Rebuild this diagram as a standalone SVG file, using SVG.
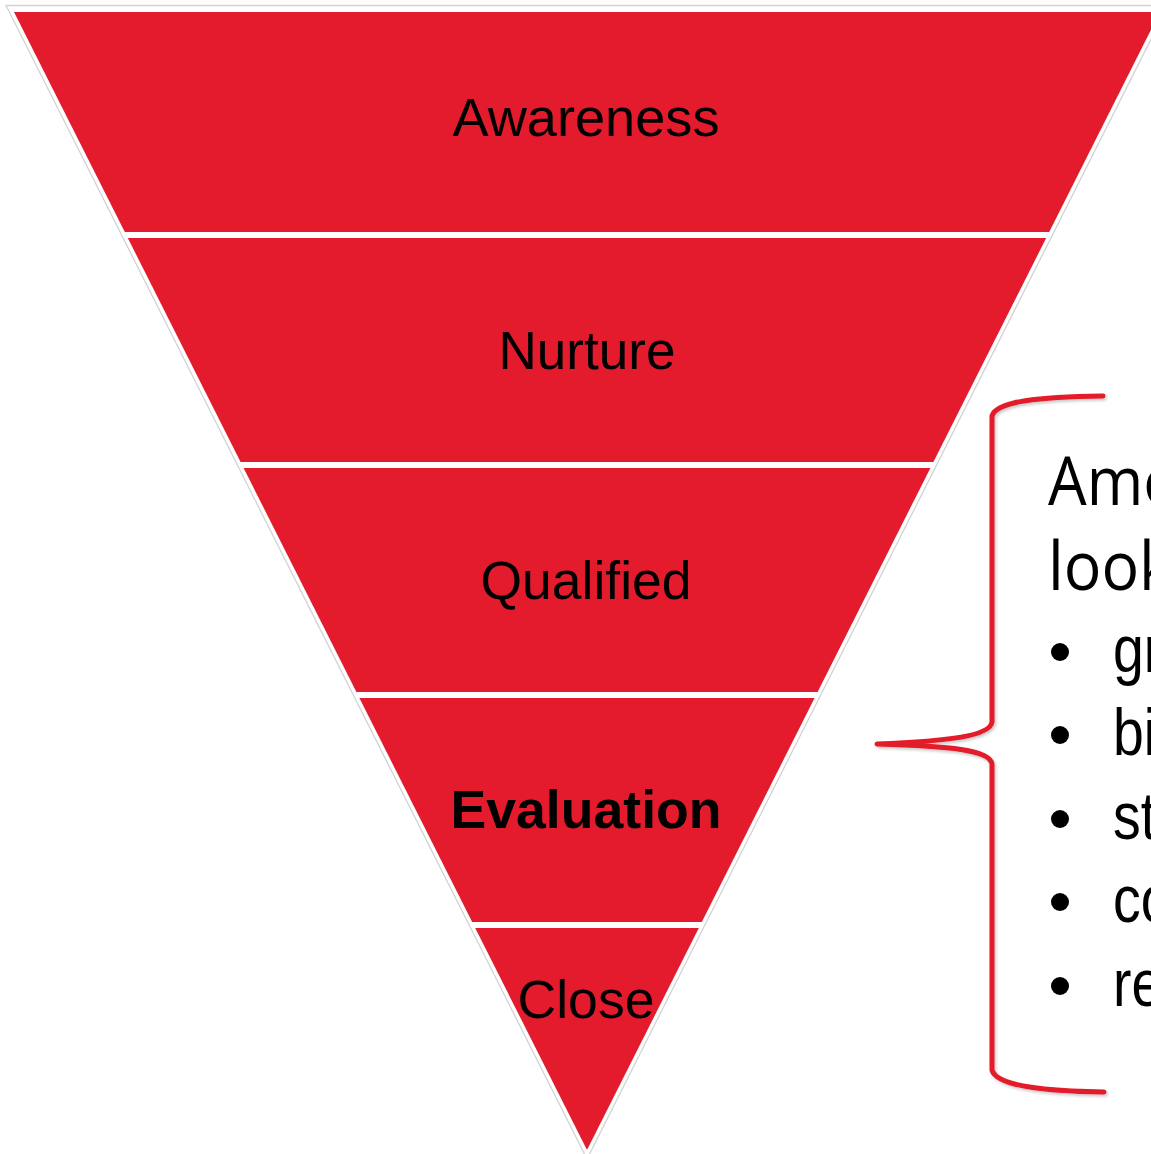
<svg xmlns="http://www.w3.org/2000/svg" width="1151" height="1154" viewBox="0 0 1151 1154">
  <style>
    .band { fill: #e31b2c; }
    .lbl { font-family: "Liberation Sans", Arial, sans-serif; font-size: 53px; fill: #000; text-anchor: middle; }
    .side1 { font-family: "Open Sans", "Liberation Sans", sans-serif; font-size: 67px; fill: #000; }
    .side2 { font-family: "Liberation Sans", Arial, sans-serif; font-size: 66px; fill: #000; }
    .brace { fill: none; stroke: #e31b2c; stroke-width: 5; stroke-linecap: round; stroke-linejoin: round; }
  </style>
  <defs>
    <filter id="sh" x="-10%" y="-10%" width="130%" height="130%">
      <feDropShadow dx="1.5" dy="2" stdDeviation="1.5" flood-color="#000" flood-opacity="0.22"/>
    </filter>
  </defs>
  <rect width="1151" height="1154" fill="#ffffff"/>
  <polygon points="6,5.5 1168,5.5 587,1159" fill="none" stroke="#d2d2d2" stroke-width="1.3"/>

  <g id="awareness">
    <polygon class="band" points="14,12 1160,12 1049.2,232 124.8,232"/>
    <text class="lbl" x="586" y="136" textLength="267" lengthAdjust="spacingAndGlyphs">Awareness</text>
  </g>
  <g id="nurture">
    <polygon class="band" points="127.8,238 1046.2,238 933.4,462 240.6,462"/>
    <text class="lbl" x="587" y="369" textLength="177" lengthAdjust="spacingAndGlyphs">Nurture</text>
  </g>
  <g id="qualified">
    <polygon class="band" points="243.6,468 930.4,468 817.6,692 356.4,692"/>
    <text class="lbl" x="586" y="599" textLength="211" lengthAdjust="spacingAndGlyphs">Qualified</text>
  </g>
  <g id="evaluation">
    <polygon class="band" points="359.4,698 814.6,698 701.8,922 472.2,922"/>
    <text class="lbl" x="586" y="828" font-weight="bold" font-size="54" textLength="271" lengthAdjust="spacingAndGlyphs">Evaluation</text>
  </g>
  <g id="close">
    <polygon class="band" points="475.2,928 698.8,928 587.5,1149 586.5,1149"/>
    <text class="lbl" x="586" y="1018" textLength="137" lengthAdjust="spacingAndGlyphs">Close</text>
  </g>

  <g id="connectors">
    <path class="brace" filter="url(#sh)" d="M1103,396 C1040,397 996,401 992,416 L992,722 C990,736 950,741 877,744 C950,746 990,750 992,764 L992,1070 C996,1085 1040,1091 1104,1092"/>
  </g>

  <g id="note">
    <text class="side1" x="1048" y="505" textLength="132" lengthAdjust="spacingAndGlyphs">Amo</text>
    <text class="side1" x="1048" y="590" textLength="124" lengthAdjust="spacingAndGlyphs">look</text>
    <circle cx="1060" cy="652" r="9"/>
    <text class="side2" transform="translate(1113,672) scale(0.84,1)">gr</text>
    <circle cx="1060" cy="735" r="9"/>
    <text class="side2" transform="translate(1113,755) scale(0.84,1)">bi</text>
    <circle cx="1060" cy="819" r="9"/>
    <text class="side2" transform="translate(1113,839) scale(0.84,1)">st</text>
    <circle cx="1060" cy="902" r="9"/>
    <text class="side2" transform="translate(1113,922) scale(0.84,1)">co</text>
    <circle cx="1060" cy="986" r="9"/>
    <text class="side2" transform="translate(1113,1006) scale(0.84,1)">re</text>
  </g>
</svg>
